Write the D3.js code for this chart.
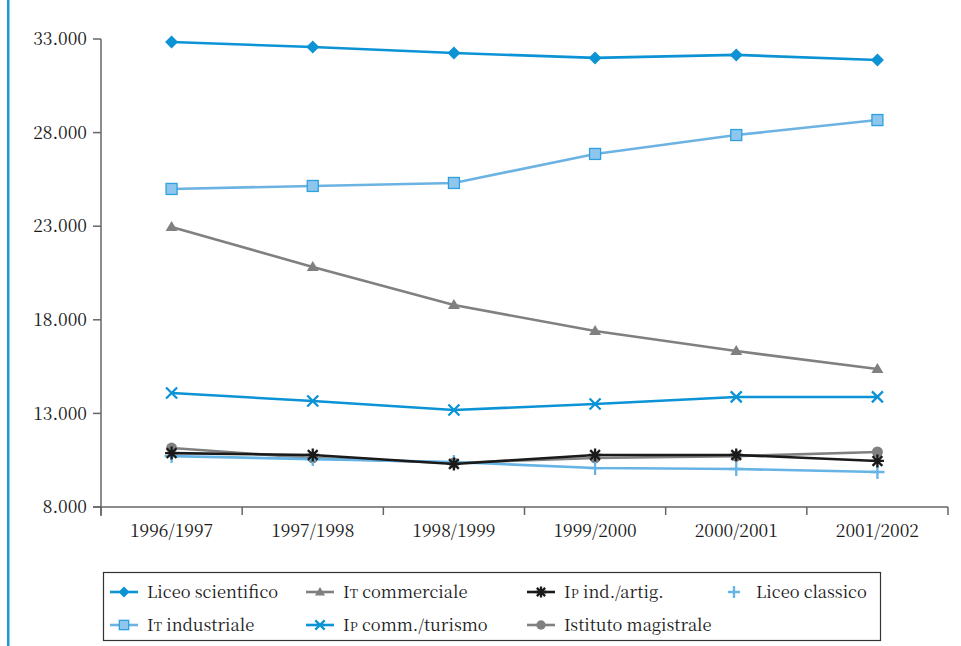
<!DOCTYPE html>
<html><head><meta charset="utf-8">
<script src="https://cdn.jsdelivr.net/npm/d3@7"></script>
<style>
html,body{margin:0;padding:0;background:#fff;}
svg{display:block;}
</style></head>
<body>
<svg id="c" width="961" height="646"></svg>
<script>
const categories = ["1996/1997","1997/1998","1998/1999","1999/2000","2000/2001","2001/2002"];
const yTicks = [8000,13000,18000,23000,28000,33000];
const liceoScientifico = [32840,32570,32250,31990,32150,31880];
const itIndustriale   = [24990,25150,25310,26860,27870,28670];
const itCommerciale   = [22960,20820,18790,17400,16330,15370];
const ipCommTurismo   = [14090,13660,13180,13500,13880,13880];
const ipIndArtig      = [10880,10780,10300,10780,10780,10460];
const istMagistrale   = [11150,10620,10350,10620,10720,10940];
const liceoClassico   = [10720,10560,10400,10080,10030,9870];

const FONT = "'Noto Serif CJK SC','Noto Serif','Liberation Serif',serif";

const series = [
  {name:["Liceo scientifico"], values:liceoScientifico, color:"#0b93d5", marker:"diamond", legendLine:true},
  {name:["I","T"," commerciale"], values:itCommerciale, color:"#808080", marker:"triangle", legendLine:true},
  {name:["I","P"," ind./artig."], values:ipIndArtig, color:"#1a1a1a", marker:"asterisk", legendLine:true},
  {name:["Liceo classico"], values:liceoClassico, color:"#66b3e5", marker:"plus", legendLine:false},
  {name:["I","T"," industriale"], values:itIndustriale, color:"#6cb3e3", marker:"square", legendLine:true},
  {name:["I","P"," comm./turismo"], values:ipCommTurismo, color:"#0b93d5", marker:"cross", legendLine:true},
  {name:["Istituto magistrale"], values:istMagistrale, color:"#808080", marker:"circle", legendLine:true}
];
const drawOrder = [0,4,1,5,6,3,2];

const svg = d3.select("#c");
svg.append("rect").attr("x",7).attr("y",0).attr("width",2.5).attr("height",646).attr("fill","#1c9ad6");

const x = d3.scaleBand().domain(categories).range([101,948]);
const y = d3.scaleLinear().domain([8000,33000]).range([507,39]);
const axisColor = "#666";

svg.append("line").attr("x1",101).attr("x2",101).attr("y1",y(33000)).attr("y2",y(8000)+9)
  .attr("stroke",axisColor).attr("stroke-width",1.5);
const yAx = svg.append("g");
yTicks.forEach(t=>{
  yAx.append("line").attr("x1",93).attr("x2",101).attr("y1",y(t)).attr("y2",y(t)).attr("stroke",axisColor).attr("stroke-width",1.5);
  yAx.append("text").attr("x",87).attr("y",y(t)).attr("dy","0.35em").attr("text-anchor","end")
    .attr("font-family",FONT).attr("font-size",17.5).attr("fill","#1a1a1a").text(d3.format(",")(t).replace(/,/g,"."));
});
svg.append("line").attr("x1",93).attr("x2",948).attr("y1",y(8000)).attr("y2",y(8000)).attr("stroke",axisColor).attr("stroke-width",1.5);
const bounds = categories.map(c=>x(c)).concat([x.range()[1]]);
bounds.forEach(b=>{
  svg.append("line").attr("x1",b).attr("x2",b).attr("y1",y(8000)).attr("y2",y(8000)+8).attr("stroke",axisColor).attr("stroke-width",1.5);
});
categories.forEach(c=>{
  svg.append("text").attr("x",x(c)+x.bandwidth()/2).attr("y",537).attr("text-anchor","middle")
    .attr("font-family",FONT).attr("font-size",17.5).attr("fill","#1a1a1a").text(c);
});

function drawMarker(g, type, cx, cy, color, s){
  s = s||1;
  if(type==="diamond"){
    g.append("path").attr("d",`M${cx},${cy-6.5*s}L${cx+6.5*s},${cy}L${cx},${cy+6.5*s}L${cx-6.5*s},${cy}Z`).attr("fill",color);
  } else if(type==="square"){
    g.append("rect").attr("x",cx-5.5*s).attr("y",cy-5.5*s).attr("width",11*s).attr("height",11*s)
      .attr("fill","#8ec6ee").attr("stroke","#2fa0de").attr("stroke-width",1.3);
  } else if(type==="triangle"){
    g.append("path").attr("d",`M${cx},${cy-6*s}L${cx+6*s},${cy+4*s}L${cx-6*s},${cy+4*s}Z`).attr("fill",color);
  } else if(type==="circle"){
    g.append("circle").attr("cx",cx).attr("cy",cy).attr("r",5.5*s).attr("fill",color);
  } else if(type==="cross"){
    const r=5.5*s;
    g.append("path").attr("d",`M${cx-r},${cy-r}L${cx+r},${cy+r}M${cx-r},${cy+r}L${cx+r},${cy-r}`).attr("stroke",color).attr("stroke-width",2.3);
  } else if(type==="plus"){
    const r=7*s;
    g.append("path").attr("d",`M${cx-r},${cy}L${cx+r},${cy}M${cx},${cy-r}L${cx},${cy+r}`).attr("stroke",color).attr("stroke-width",2.3);
  } else if(type==="asterisk"){
    const r=6.5*s, d=r*0.75;
    g.append("path").attr("d",`M${cx-r},${cy}L${cx+r},${cy}M${cx},${cy-r}L${cx},${cy+r}M${cx-d},${cy-d}L${cx+d},${cy+d}M${cx-d},${cy+d}L${cx+d},${cy-d}`)
      .attr("stroke",color).attr("stroke-width",2.3);
  }
}

const line = d3.line().x((d,i)=>x(categories[i])+x.bandwidth()/2).y(d=>y(d));
drawOrder.forEach(k=>{
  const s = series[k];
  const g = svg.append("g");
  g.append("path").attr("d",line(s.values)).attr("fill","none").attr("stroke",s.color).attr("stroke-width",2.6);
  s.values.forEach((v,i)=>drawMarker(g,s.marker,x(categories[i])+x.bandwidth()/2,y(v),s.color));
});

const lg = svg.append("g");
lg.append("rect").attr("x",103.5).attr("y",572.5).attr("width",777).attr("height",68).attr("fill","#fff").attr("stroke","#333").attr("stroke-width",1.2);
const colX = [110,306,527,720];
const rowY = [592,625];
series.forEach((s,i)=>{
  const col = i%4, row = Math.floor(i/4);
  const lx = colX[col], ly = rowY[row];
  if(s.legendLine){
    lg.append("line").attr("x1",lx).attr("x2",lx+28).attr("y1",ly).attr("y2",ly).attr("stroke",s.color).attr("stroke-width",2.6);
  }
  drawMarker(lg,s.marker,lx+14,ly,s.color,0.85);
  const t = lg.append("text").attr("x",lx+(s.legendLine?37:36)).attr("y",ly).attr("dy","0.35em")
    .attr("font-family",FONT).attr("font-size",16.5).attr("fill","#1a1a1a");
  if(s.name.length===1){ t.text(s.name[0]); }
  else {
    t.append("tspan").text(s.name[0]);
    t.append("tspan").attr("font-size",12.5).text(s.name[1]);
    t.append("tspan").text(s.name[2]);
  }
});
</script>
</body></html>
